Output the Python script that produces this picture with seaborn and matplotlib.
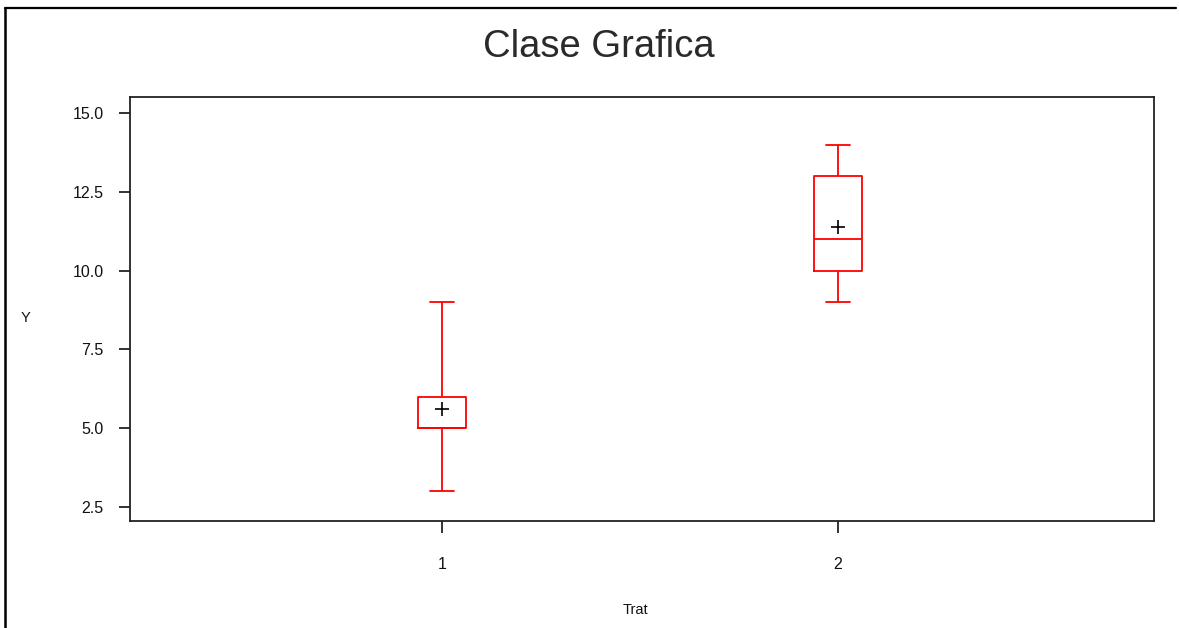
import numpy as np
import pandas as pd
import matplotlib
matplotlib.use("Agg")
import matplotlib.pyplot as plt
from matplotlib.lines import Line2D
import seaborn as sns

# Observations per treatment
treatments = ["1", "2"]
y_trat1 = [3, 5, 5, 6, 9]
y_trat2 = [9, 10, 11, 13, 14]
y_ticks = [2.5, 5.0, 7.5, 10.0, 12.5, 15.0]

df = pd.DataFrame({
    "Trat": [treatments[0]] * len(y_trat1) + [treatments[1]] * len(y_trat2),
    "Y": y_trat1 + y_trat2,
})

sns.set_style("ticks")
plt.rcParams["font.family"] = ["Liberation Sans", "DejaVu Sans"]

W, H = 1179, 628
fig = plt.figure(figsize=(W / 100, H / 100), dpi=100)
ax = fig.add_axes([130 / W, 1 - 521 / H, 1024 / W, 424 / H])

sns.boxplot(
    data=df, x="Trat", y="Y", order=treatments, ax=ax,
    color="#ff0000", fill=False, width=0.12, whis=(0, 100),
    linewidth=1.3, showmeans=True,
    meanprops=dict(marker="+", markeredgecolor="black",
                   markerfacecolor="black", markersize=10, markeredgewidth=1.2),
)

ax.set_xlim(-0.788, 1.798)
ax.set_ylim(2.056, 15.51)
ax.set_yticks(y_ticks)
ax.set_yticklabels([f"{v:.1f}" for v in y_ticks])

for side in ["left", "right", "top", "bottom"]:
    ax.spines[side].set_visible(True)
    ax.spines[side].set_color("#222222")
    ax.spines[side].set_linewidth(1.3)

ax.tick_params(axis="y", direction="out", length=8, width=1.3, color="#222222",
               pad=11, labelsize=11.5, labelcolor="#111111")
ax.tick_params(axis="x", direction="out", length=8.6, width=1.3, color="#222222",
               pad=17, labelsize=11.5, labelcolor="#111111")

ax.set_xlabel("Trat", fontsize=10.5, color="#111111")
ax.xaxis.set_label_coords(0.494, -0.194)
ax.set_ylabel("Y", fontsize=10.5, color="#111111", rotation=0)
ax.yaxis.set_label_coords(-0.1025, 0.462)

fig.text(598.5 / W, 1 - 47 / H, "Clase Grafica", ha="center", va="center",
         fontsize=27.5, color="#2a2a2a")

# Outer frame (top and left edges)
fig.add_artist(Line2D([5 / W, 1176 / W], [1 - 8 / H, 1 - 8 / H],
                      transform=fig.transFigure, color="black", lw=1.6))
fig.add_artist(Line2D([5 / W, 5 / W], [1 - 8 / H, 0],
                      transform=fig.transFigure, color="black", lw=1.8))

fig.savefig("out.png", dpi=100, facecolor="white")
